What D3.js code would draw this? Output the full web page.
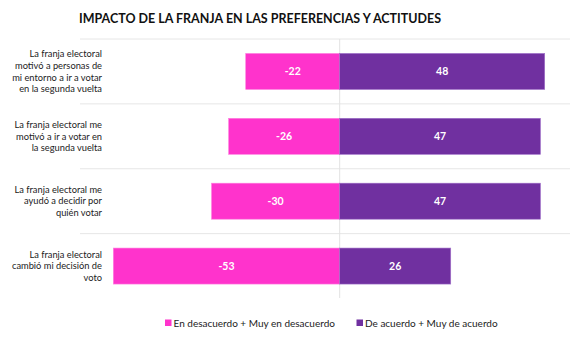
<!DOCTYPE html>
<html><head><meta charset="utf-8">
<script src="https://cdn.jsdelivr.net/npm/d3@7"></script>
<style>body{margin:0;background:#fff}svg{display:block}text{font-family:Lato,"Open Sans",sans-serif}</style>
</head><body>
<script>
const categories = [
  ["La franja electoral","motivó a personas de","mi entorno a ir a votar","en la segunda vuelta"],
  ["La franja electoral me","motivó a ir a votar en","la segunda vuelta"],
  ["La franja electoral me","ayudó a decidir por","quién votar"],
  ["La franja electoral","cambió mi decisión de","voto"]
];
const disagree = [-22, -26, -30, -53];
const agree = [48, 47, 47, 26];
const seriesNames = ["En desacuerdo + Muy en desacuerdo", "De acuerdo + Muy de acuerdo"];
const colors = ["#FF33CC", "#7030A0"];
const title = "IMPACTO DE LA FRANJA EN LAS PREFERENCIAS Y ACTITUDES";

const W = 570, H = 338;
const svg = d3.select("body").append("svg").attr("width", W).attr("height", H);

const x = d3.scaleLinear().domain([-53, 48]).range([113.3, 544.7]);
const y = d3.scaleBand().domain(d3.range(categories.length)).range([39, 298.5]).paddingInner(0.445).paddingOuter(0.2225);

svg.append("text").attr("x", 79).attr("y", 23).attr("font-size", 12.5).attr("font-weight", 700)
  .attr("fill", "#111").attr("textLength", 362).attr("lengthAdjust", "spacingAndGlyphs").text(title);

// gridlines between bands
const step = y.step();
const lines = d3.range(categories.length).map(i => y(i) - step * y.paddingInner() / 2 - (i === 0 ? step*0 : 0));
const gridYs = d3.range(categories.length).map(i => 39 + i * (259.5 / 4));
svg.selectAll("line.grid").data(gridYs).join("line").attr("class", "grid")
  .attr("x1", 80).attr("x2", W).attr("y1", d => d).attr("y2", d => d)
  .attr("stroke", "#e6e6e6").attr("stroke-width", 1);

svg.append("line").attr("x1", x(0)).attr("x2", x(0)).attr("y1", 39).attr("y2", 298)
  .attr("stroke", "#e3e3e3").attr("stroke-width", 1);

const g = svg.append("g");
[disagree, agree].forEach((vals, s) => {
  g.selectAll("rect.s" + s).data(vals).join("rect").attr("class", "s" + s)
    .attr("x", d => Math.min(x(0), x(d))).attr("width", d => Math.abs(x(d) - x(0)))
    .attr("y", (d, i) => y(i)).attr("height", y.bandwidth())
    .attr("fill", colors[s]).attr("stroke", s === 0 ? "#ff80df" : "#a070c8").attr("stroke-width", 0.6);
  g.selectAll("text.v" + s).data(vals).join("text").attr("class", "v" + s)
    .attr("x", d => (x(d) + x(0)) / 2).attr("y", (d, i) => y(i) + y.bandwidth() / 2)
    .attr("dy", "0.35em").attr("text-anchor", "middle").attr("fill", "#fff")
    .attr("font-size", 10.5).attr("font-weight", 700).text(d => d);
});

categories.forEach((lines, i) => {
  const cy = y(i) + y.bandwidth() / 2;
  const lh = 11.8;
  const t = svg.append("text").attr("text-anchor", "end").attr("font-size", 9.3).attr("fill", "#222");
  lines.forEach((ln, k) => {
    t.append("tspan").attr("x", 102).attr("y", cy + (k - (lines.length - 1) / 2) * lh).attr("dy", "0.35em").text(ln);
  });
});

// legend
const legX = [165, 356.5];
seriesNames.forEach((n, s) => {
  svg.append("rect").attr("x", legX[s]).attr("y", 319.5).attr("width", 6.5).attr("height", 6.5).attr("fill", colors[s]);
  svg.append("text").attr("x", legX[s] + 8.5).attr("y", 323).attr("dy", "0.35em").attr("font-size", 10).attr("fill", "#222").text(n);
});
</script>
</body></html>
